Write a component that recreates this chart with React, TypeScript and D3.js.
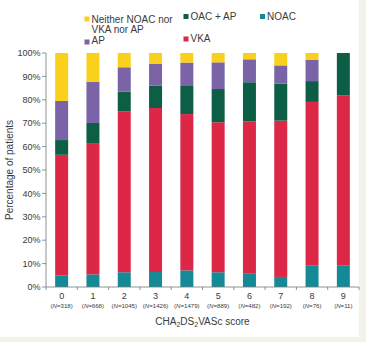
import React from "react";
import * as d3 from "d3";

const categories = ["0", "1", "2", "3", "4", "5", "6", "7", "8", "9"];
const nLabels = ["318", "668", "1045", "1426", "1479", "889", "482", "192", "76", "11"];
const noac = [5.0, 5.4, 6.3, 6.4, 7.1, 6.3, 5.9, 4.3, 9.1, 9.1];
const vka = [51.5, 56.1, 68.8, 70.1, 66.8, 64.1, 64.9, 66.8, 70.0, 72.7];
const oacAp = [6.3, 8.6, 8.4, 9.5, 12.0, 14.2, 16.7, 15.8, 8.9, 18.2];
const ap = [16.7, 17.5, 10.4, 9.3, 10.0, 11.4, 9.8, 7.8, 9.0, 0];
const neither = [20.5, 12.4, 6.1, 4.7, 4.1, 4.0, 2.7, 5.3, 3.0, 0];
const yTicks = [0, 10, 20, 30, 40, 50, 60, 70, 80, 90, 100];

const seriesKeys = ["noac", "vka", "oacAp", "ap", "neither"];
const colors: Record<string, string> = {
  noac: "#158a97",
  vka: "#dc2747",
  oacAp: "#0c5e45",
  ap: "#7a63a7",
  neither: "#f9d11c",
};

const rows = categories.map((c, i) => ({
  cat: c,
  noac: noac[i],
  vka: vka[i],
  oacAp: oacAp[i],
  ap: ap[i],
  neither: neither[i],
}));

export default function App() {
  const W = 366;
  const H = 342;
  const left = 46;
  const right = 359;
  const top = 53;
  const bottom = 287;

  const x = d3
    .scaleBand<string>()
    .domain(categories)
    .range([left, right])
    .paddingInner(0.585)
    .paddingOuter(0.2925);
  const slot = d3.scaleBand<string>().domain(categories).range([left, right]).padding(0);
  const y = d3.scaleLinear().domain([0, 100]).range([bottom, top]);

  const stack = d3.stack<any>().keys(seriesKeys)(rows as any);
  const font = "'Liberation Sans', Arial, sans-serif";
  const textColor = "#3a3a3a";
  const axisColor = "#777";

  const legend = [
    { key: "neither", x: 84.5, y: 16.5, lines: ["Neither NOAC nor", "VKA nor AP"], base: 22.5 },
    { key: "ap", x: 84.5, y: 39.5, lines: ["AP"], base: 44 },
    { key: "oacAp", x: 183.5, y: 14, lines: ["OAC + AP"], base: 19.5 },
    { key: "vka", x: 183.5, y: 36.5, lines: ["VKA"], base: 42 },
    { key: "noac", x: 260, y: 14, lines: ["NOAC"], base: 19.5 },
  ];

  const boundaries = [...categories.map((c) => slot(c) as number), right];

  return (
    <svg
      width={W}
      height={H}
      style={{ position: "absolute", left: 0, top: 0 }}
      fontFamily={font}
    >
      <rect x={0} y={0} width={W} height={H} fill="#f3f2ea" />
      <rect x={0} y={0} width={359} height={337} fill="#ffffff" />

      {stack.map((s) =>
        s.map((d, i) => {
          const h = y(d[0]) - y(d[1]);
          if (h <= 0) return null;
          return (
            <rect
              key={s.key + i}
              x={x(categories[i])}
              y={y(d[1])}
              width={x.bandwidth()}
              height={h}
              fill={colors[s.key]}
            />
          );
        })
      )}

      {/* y axis */}
      <line x1={left} x2={left} y1={top} y2={bottom} stroke={axisColor} strokeWidth={0.8} />
      {yTicks.map((t) => (
        <g key={t}>
          <line x1={left - 4} x2={left} y1={y(t)} y2={y(t)} stroke={axisColor} strokeWidth={0.8} />
          <text
            x={left - 5.5}
            y={y(t)}
            dy="0.35em"
            textAnchor="end"
            fontSize={9}
            fill={textColor}
          >
            {t}%
          </text>
        </g>
      ))}

      {/* x axis */}
      <line x1={left} x2={right} y1={bottom} y2={bottom} stroke={axisColor} strokeWidth={0.8} />
      {boundaries.map((b, i) => (
        <line key={i} x1={b} x2={b} y1={bottom} y2={bottom + 3} stroke={axisColor} strokeWidth={0.8} />
      ))}
      {categories.map((c, i) => {
        const cx = (x(c) as number) + x.bandwidth() / 2;
        return (
          <g key={c}>
            <text x={cx} y={299} textAnchor="middle" fontSize={9} fill={textColor}>
              {c}
            </text>
            <text x={cx} y={307.5} textAnchor="middle" fontSize={6.1} fill={textColor}>
              (<tspan fontStyle="italic">N</tspan>={nLabels[i]})
            </text>
          </g>
        );
      })}

      <text
        x={(left + right) / 2}
        y={324.5}
        textAnchor="middle"
        fontSize={10}
        fill={textColor}
      >
        CHA<tspan fontSize={7} dy={2.5}>2</tspan>
        <tspan dy={-2.5}>DS</tspan>
        <tspan fontSize={7} dy={2.5}>2</tspan>
        <tspan dy={-2.5}>VASc score</tspan>
      </text>

      <text
        transform={`translate(13,${(top + bottom) / 2}) rotate(-90)`}
        textAnchor="middle"
        fontSize={10}
        fill={textColor}
      >
        Percentage of patients
      </text>

      {legend.map((l) => (
        <g key={l.key}>
          <rect x={l.x} y={l.y} width={5} height={5} fill={colors[l.key]} />
          {l.lines.map((ln, j) => (
            <text key={j} x={l.x + 7} y={l.base + j * 10} fontSize={10} fill={textColor}>
              {ln}
            </text>
          ))}
        </g>
      ))}
    </svg>
  );
}
